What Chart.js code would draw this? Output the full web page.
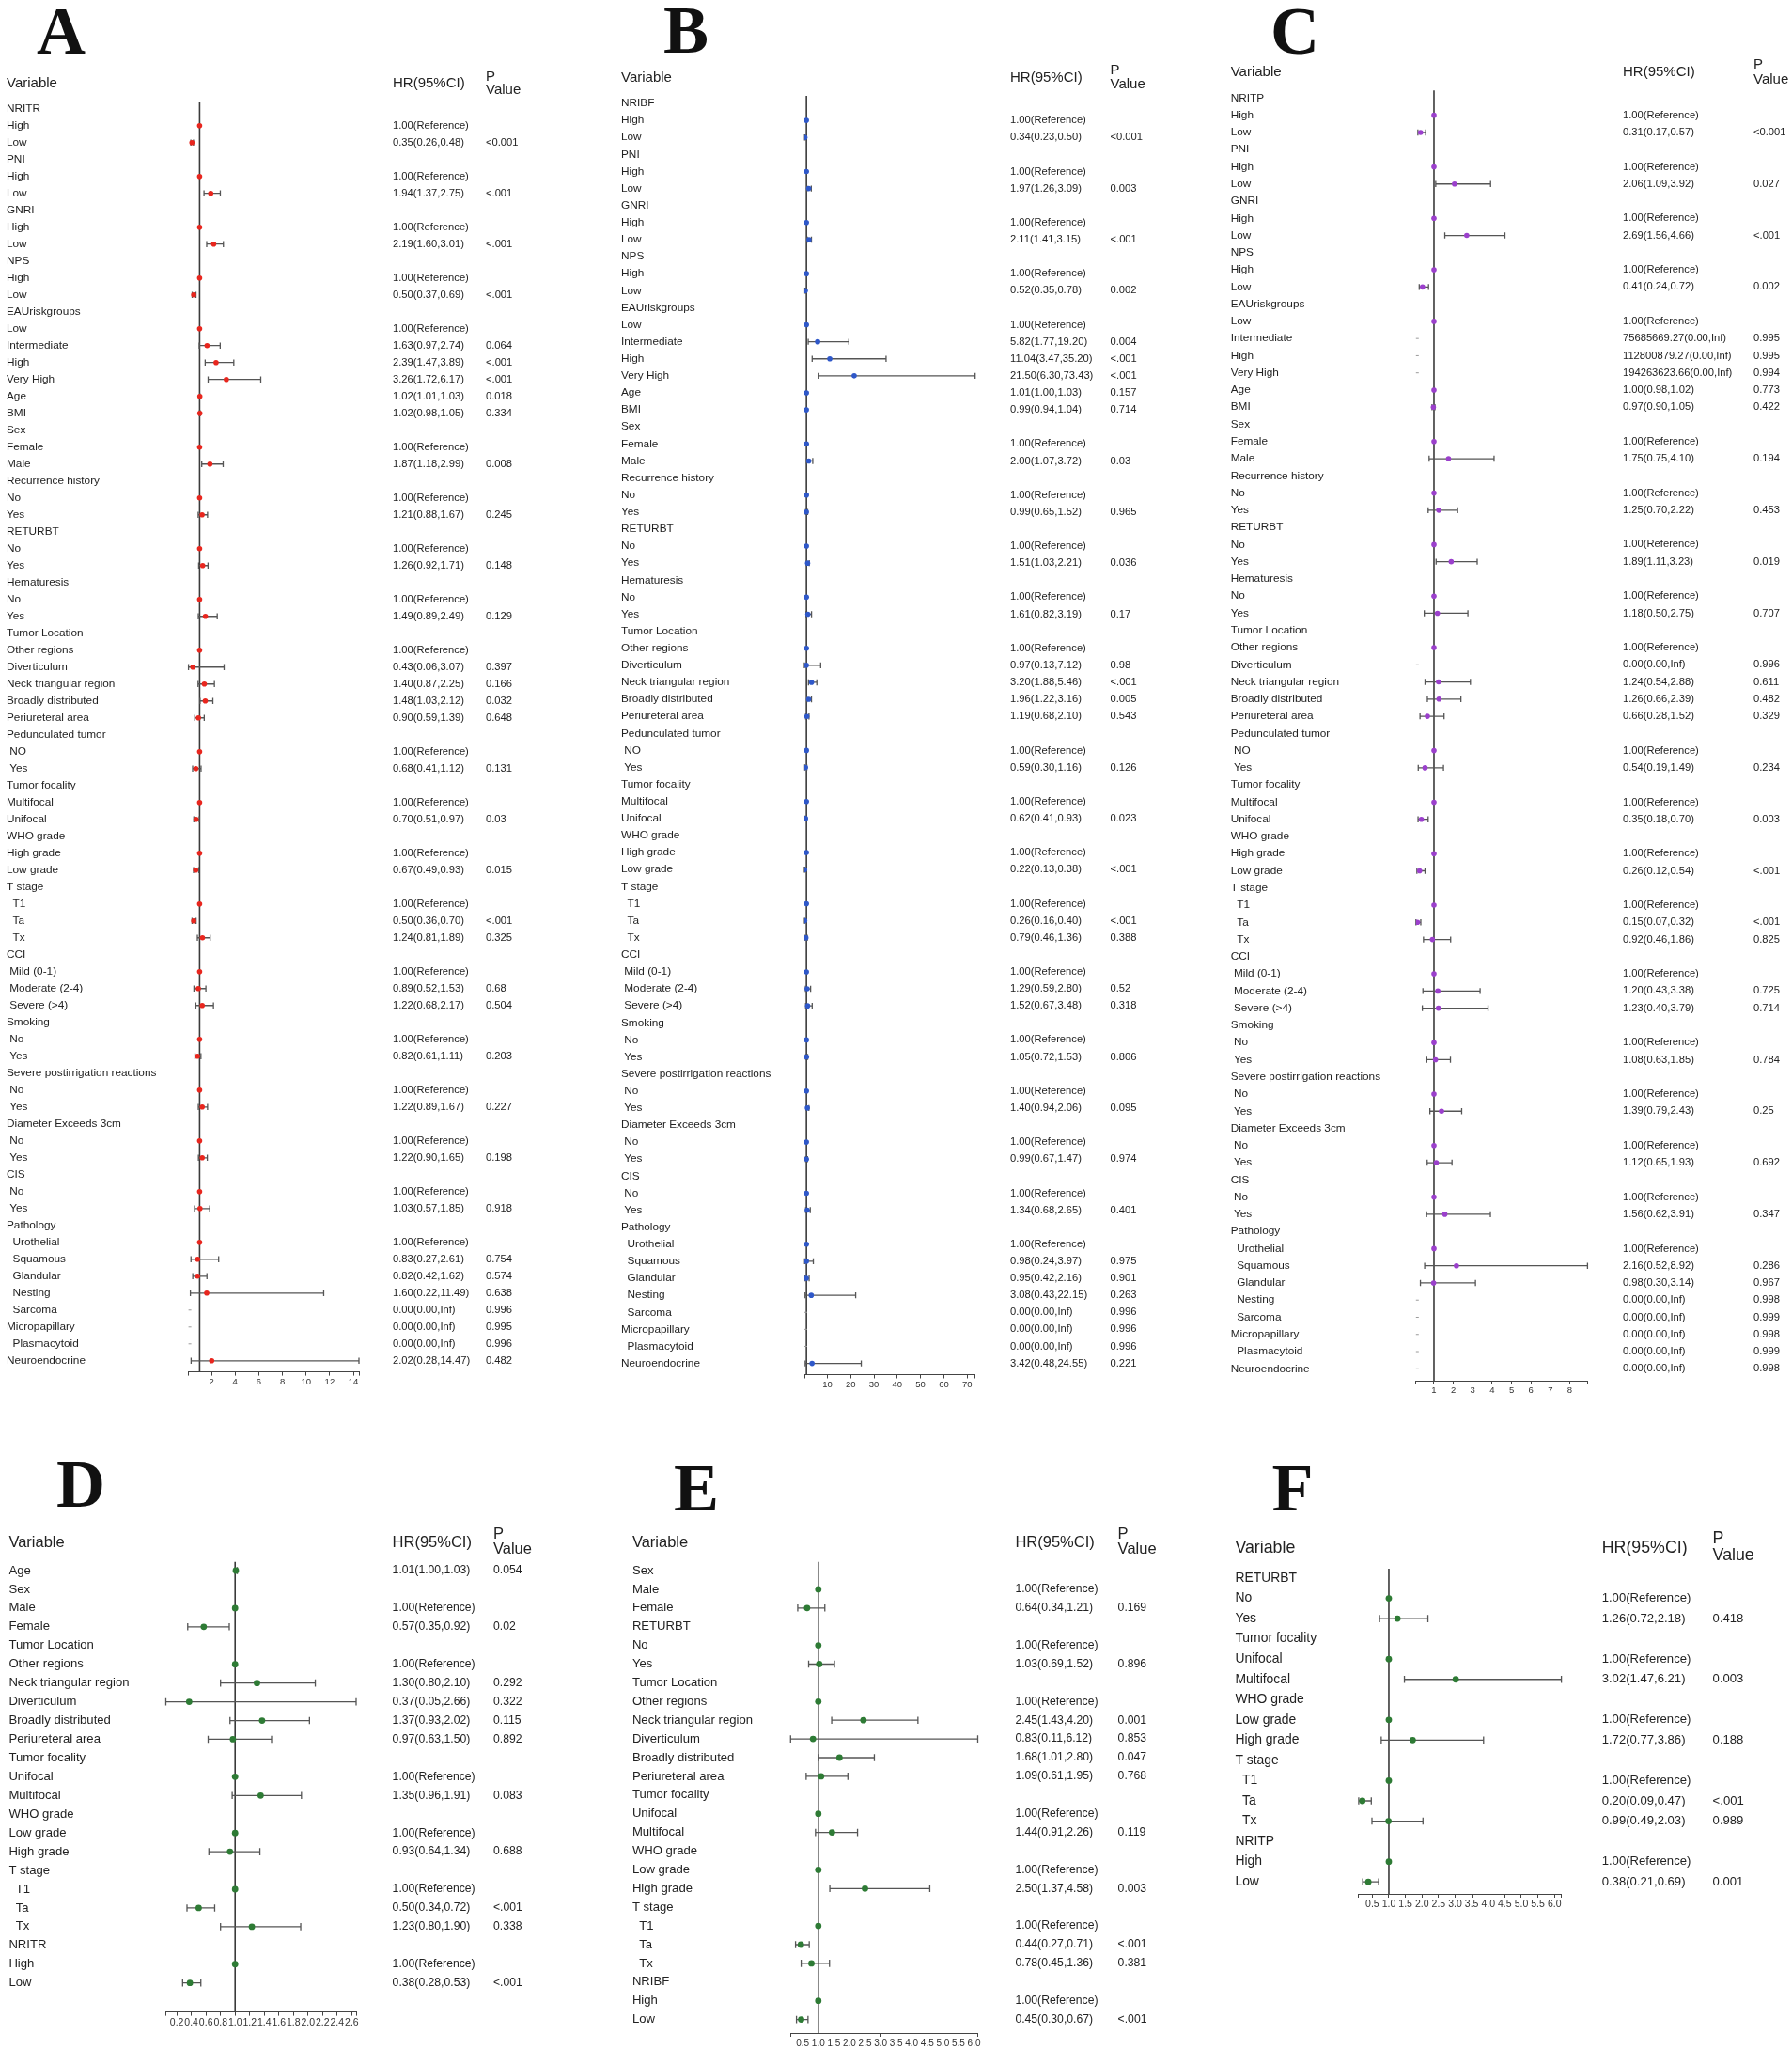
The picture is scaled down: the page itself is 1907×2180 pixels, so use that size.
<!DOCTYPE html>
<html>
<head>
<meta charset="utf-8">
<title>Forest plots A-F</title>
<script src="https://cdn.jsdelivr.net/npm/chart.js@4.4.1/dist/chart.umd.min.js"></script>
<style>
  html, body { margin: 0; padding: 0; background: #fff; width: 1907px; height: 2180px; overflow: hidden; }
  canvas { position: absolute; left: 0; top: 0; }
</style>
</head>
<body>
<canvas id="chartA" width="1907" height="2230"></canvas>
<canvas id="chartB" width="1907" height="2230"></canvas>
<canvas id="chartC" width="1907" height="2230"></canvas>
<canvas id="chartD" width="1907" height="2230"></canvas>
<canvas id="chartE" width="1907" height="2230"></canvas>
<canvas id="chartF" width="1907" height="2230"></canvas>
<script>
// ================== DATA ==================
// null hr = group header row, hr with null lo = reference level, Infinity hi = not estimable

const varsA = ['NRITR', 'High', 'Low', 'PNI', 'High', 'Low', 'GNRI', 'High', 'Low', 'NPS', 'High', 'Low',
  'EAUriskgroups', 'Low', 'Intermediate', 'High', 'Very High', 'Age', 'BMI', 'Sex', 'Female', 'Male',
  'Recurrence history', 'No', 'Yes', 'RETURBT', 'No', 'Yes', 'Hematuresis', 'No', 'Yes',
  'Tumor Location', 'Other regions', 'Diverticulum', 'Neck triangular region', 'Broadly distributed', 'Periureteral area',
  'Pedunculated tumor', ' NO', ' Yes', 'Tumor focality', 'Multifocal', 'Unifocal', 'WHO grade', 'High grade', 'Low grade',
  'T stage', '  T1', '  Ta', '  Tx', 'CCI', ' Mild (0-1)', ' Moderate (2-4)', ' Severe (>4)', 'Smoking', ' No', ' Yes',
  'Severe postirrigation reactions', ' No', ' Yes', 'Diameter Exceeds 3cm', ' No', ' Yes', 'CIS', ' No', ' Yes',
  'Pathology', '  Urothelial', '  Squamous', '  Glandular', '  Nesting', '  Sarcoma', 'Micropapillary', '  Plasmacytoid', 'Neuroendocrine'];
const hrA = [null, 1, 0.35, null, 1, 1.94, null, 1, 2.19, null, 1, 0.50, null, 1, 1.63, 2.39, 3.26, 1.02, 1.02,
  null, 1, 1.87, null, 1, 1.21, null, 1, 1.26, null, 1, 1.49, null, 1, 0.43, 1.40, 1.48, 0.90, null, 1, 0.68,
  null, 1, 0.70, null, 1, 0.67, null, 1, 0.50, 1.24, null, 1, 0.89, 1.22, null, 1, 0.82, null, 1, 1.22,
  null, 1, 1.22, null, 1, 1.03, null, 1, 0.83, 0.82, 1.60, 0.00, 0.00, 0.00, 2.02];
const loA = [null, null, 0.26, null, null, 1.37, null, null, 1.60, null, null, 0.37, null, null, 0.97, 1.47, 1.72, 1.01, 0.98,
  null, null, 1.18, null, null, 0.88, null, null, 0.92, null, null, 0.89, null, null, 0.06, 0.87, 1.03, 0.59, null, null, 0.41,
  null, null, 0.51, null, null, 0.49, null, null, 0.36, 0.81, null, null, 0.52, 0.68, null, null, 0.61, null, null, 0.89,
  null, null, 0.90, null, null, 0.57, null, null, 0.27, 0.42, 0.22, 0.00, 0.00, 0.00, 0.28];
const hiA = [null, null, 0.48, null, null, 2.75, null, null, 3.01, null, null, 0.69, null, null, 2.74, 3.89, 6.17, 1.03, 1.05,
  null, null, 2.99, null, null, 1.67, null, null, 1.71, null, null, 2.49, null, null, 3.07, 2.25, 2.12, 1.39, null, null, 1.12,
  null, null, 0.97, null, null, 0.93, null, null, 0.70, 1.89, null, null, 1.53, 2.17, null, null, 1.11, null, null, 1.67,
  null, null, 1.65, null, null, 1.85, null, null, 2.61, 1.62, 11.49, Infinity, Infinity, Infinity, 14.47];
const pA = [null, null, '<0.001', null, null, '<.001', null, null, '<.001', null, null, '<.001', null, null, '0.064', '<.001', '<.001', '0.018', '0.334',
  null, null, '0.008', null, null, '0.245', null, null, '0.148', null, null, '0.129', null, null, '0.397', '0.166', '0.032', '0.648', null, null, '0.131',
  null, null, '0.03', null, null, '0.015', null, null, '<.001', '0.325', null, null, '0.68', '0.504', null, null, '0.203', null, null, '0.227',
  null, null, '0.198', null, null, '0.918', null, null, '0.754', '0.574', '0.638', '0.996', '0.995', '0.996', '0.482'];
const ticksA = [2, 4, 6, 8, 10, 12, 14];

const varsB = ['NRIBF', ...varsA.slice(1)];
const hrB = [null, 1, 0.34, null, 1, 1.97, null, 1, 2.11, null, 1, 0.52, null, 1, 5.82, 11.04, 21.50, 1.01, 0.99,
  null, 1, 2.00, null, 1, 0.99, null, 1, 1.51, null, 1, 1.61, null, 1, 0.97, 3.20, 1.96, 1.19, null, 1, 0.59,
  null, 1, 0.62, null, 1, 0.22, null, 1, 0.26, 0.79, null, 1, 1.29, 1.52, null, 1, 1.05, null, 1, 1.40,
  null, 1, 0.99, null, 1, 1.34, null, 1, 0.98, 0.95, 3.08, 0.00, 0.00, 0.00, 3.42];
const loB = [null, null, 0.23, null, null, 1.26, null, null, 1.41, null, null, 0.35, null, null, 1.77, 3.47, 6.30, 1.00, 0.94,
  null, null, 1.07, null, null, 0.65, null, null, 1.03, null, null, 0.82, null, null, 0.13, 1.88, 1.22, 0.68, null, null, 0.30,
  null, null, 0.41, null, null, 0.13, null, null, 0.16, 0.46, null, null, 0.59, 0.67, null, null, 0.72, null, null, 0.94,
  null, null, 0.67, null, null, 0.68, null, null, 0.24, 0.42, 0.43, 0.00, 0.00, 0.00, 0.48];
const hiB = [null, null, 0.50, null, null, 3.09, null, null, 3.15, null, null, 0.78, null, null, 19.20, 35.20, 73.43, 1.03, 1.04,
  null, null, 3.72, null, null, 1.52, null, null, 2.21, null, null, 3.19, null, null, 7.12, 5.46, 3.16, 2.10, null, null, 1.16,
  null, null, 0.93, null, null, 0.38, null, null, 0.40, 1.36, null, null, 2.80, 3.48, null, null, 1.53, null, null, 2.06,
  null, null, 1.47, null, null, 2.65, null, null, 3.97, 2.16, 22.15, Infinity, Infinity, Infinity, 24.55];
const pB = [null, null, '<0.001', null, null, '0.003', null, null, '<.001', null, null, '0.002', null, null, '0.004', '<.001', '<.001', '0.157', '0.714',
  null, null, '0.03', null, null, '0.965', null, null, '0.036', null, null, '0.17', null, null, '0.98', '<.001', '0.005', '0.543', null, null, '0.126',
  null, null, '0.023', null, null, '<.001', null, null, '<.001', '0.388', null, null, '0.52', '0.318', null, null, '0.806', null, null, '0.095',
  null, null, '0.974', null, null, '0.401', null, null, '0.975', '0.901', '0.263', '0.996', '0.996', '0.996', '0.221'];
const ticksB = [10, 20, 30, 40, 50, 60, 70];

const varsC = ['NRITP', ...varsA.slice(1)];
const hrC = [null, 1, 0.31, null, 1, 2.06, null, 1, 2.69, null, 1, 0.41, null, 1, 75685669.27, 112800879.27, 194263623.66, 1.00, 0.97,
  null, 1, 1.75, null, 1, 1.25, null, 1, 1.89, null, 1, 1.18, null, 1, 0.00, 1.24, 1.26, 0.66, null, 1, 0.54,
  null, 1, 0.35, null, 1, 0.26, null, 1, 0.15, 0.92, null, 1, 1.20, 1.23, null, 1, 1.08, null, 1, 1.39,
  null, 1, 1.12, null, 1, 1.56, null, 1, 2.16, 0.98, 0.00, 0.00, 0.00, 0.00, 0.00];
const loC = [null, null, 0.17, null, null, 1.09, null, null, 1.56, null, null, 0.24, null, null, 0.00, 0.00, 0.00, 0.98, 0.90,
  null, null, 0.75, null, null, 0.70, null, null, 1.11, null, null, 0.50, null, null, 0.00, 0.54, 0.66, 0.28, null, null, 0.19,
  null, null, 0.18, null, null, 0.12, null, null, 0.07, 0.46, null, null, 0.43, 0.40, null, null, 0.63, null, null, 0.79,
  null, null, 0.65, null, null, 0.62, null, null, 0.52, 0.30, 0.00, 0.00, 0.00, 0.00, 0.00];
const hiC = [null, null, 0.57, null, null, 3.92, null, null, 4.66, null, null, 0.72, null, null, Infinity, Infinity, Infinity, 1.02, 1.05,
  null, null, 4.10, null, null, 2.22, null, null, 3.23, null, null, 2.75, null, null, Infinity, 2.88, 2.39, 1.52, null, null, 1.49,
  null, null, 0.70, null, null, 0.54, null, null, 0.32, 1.86, null, null, 3.38, 3.79, null, null, 1.85, null, null, 2.43,
  null, null, 1.93, null, null, 3.91, null, null, 8.92, 3.14, Infinity, Infinity, Infinity, Infinity, Infinity];
const pC = [null, null, '<0.001', null, null, '0.027', null, null, '<.001', null, null, '0.002', null, null, '0.995', '0.995', '0.994', '0.773', '0.422',
  null, null, '0.194', null, null, '0.453', null, null, '0.019', null, null, '0.707', null, null, '0.996', '0.611', '0.482', '0.329', null, null, '0.234',
  null, null, '0.003', null, null, '<.001', null, null, '<.001', '0.825', null, null, '0.725', '0.714', null, null, '0.784', null, null, '0.25',
  null, null, '0.692', null, null, '0.347', null, null, '0.286', '0.967', '0.998', '0.999', '0.998', '0.999', '0.998'];
const ticksC = [1, 2, 3, 4, 5, 6, 7, 8];

const varsD = ['Age', 'Sex', 'Male', 'Female', 'Tumor Location', 'Other regions', 'Neck triangular region', 'Diverticulum',
  'Broadly distributed', 'Periureteral area', 'Tumor focality', 'Unifocal', 'Multifocal', 'WHO grade', 'Low grade', 'High grade',
  'T stage', '  T1', '  Ta', '  Tx', 'NRITR', 'High', 'Low'];
const hrD = [1.01, null, 1, 0.57, null, 1, 1.30, 0.37, 1.37, 0.97, null, 1, 1.35, null, 1, 0.93, null, 1, 0.50, 1.23, null, 1, 0.38];
const loD = [1.00, null, null, 0.35, null, null, 0.80, 0.05, 0.93, 0.63, null, null, 0.96, null, null, 0.64, null, null, 0.34, 0.80, null, null, 0.28];
const hiD = [1.03, null, null, 0.92, null, null, 2.10, 2.66, 2.02, 1.50, null, null, 1.91, null, null, 1.34, null, null, 0.72, 1.90, null, null, 0.53];
const pD = ['0.054', null, null, '0.02', null, null, '0.292', '0.322', '0.115', '0.892', null, null, '0.083', null, null, '0.688',
  null, null, '<.001', '0.338', null, null, '<.001'];
const ticksD = [0.2, 0.4, 0.6, 0.8, 1.0, 1.2, 1.4, 1.6, 1.8, 2.0, 2.2, 2.4, 2.6];

const varsE = ['Sex', 'Male', 'Female', 'RETURBT', 'No', 'Yes', 'Tumor Location', 'Other regions', 'Neck triangular region',
  'Diverticulum', 'Broadly distributed', 'Periureteral area', 'Tumor focality', 'Unifocal', 'Multifocal', 'WHO grade',
  'Low grade', 'High grade', 'T stage', '  T1', '  Ta', '  Tx', 'NRIBF', 'High', 'Low'];
const hrE = [null, 1, 0.64, null, 1, 1.03, null, 1, 2.45, 0.83, 1.68, 1.09, null, 1, 1.44, null, 1, 2.50, null, 1, 0.44, 0.78, null, 1, 0.45];
const loE = [null, null, 0.34, null, null, 0.69, null, null, 1.43, 0.11, 1.01, 0.61, null, null, 0.91, null, null, 1.37, null, null, 0.27, 0.45, null, null, 0.30];
const hiE = [null, null, 1.21, null, null, 1.52, null, null, 4.20, 6.12, 2.80, 1.95, null, null, 2.26, null, null, 4.58, null, null, 0.71, 1.36, null, null, 0.67];
const pE = [null, null, '0.169', null, null, '0.896', null, null, '0.001', '0.853', '0.047', '0.768', null, null, '0.119', null, null, '0.003',
  null, null, '<.001', '0.381', null, null, '<.001'];
const ticksE = [0.5, 1.0, 1.5, 2.0, 2.5, 3.0, 3.5, 4.0, 4.5, 5.0, 5.5, 6.0];

const varsF = ['RETURBT', 'No', 'Yes', 'Tumor focality', 'Unifocal', 'Multifocal', 'WHO grade', 'Low grade', 'High grade',
  'T stage', '  T1', '  Ta', '  Tx', 'NRITP', 'High', 'Low'];
const hrF = [null, 1, 1.26, null, 1, 3.02, null, 1, 1.72, null, 1, 0.20, 0.99, null, 1, 0.38];
const loF = [null, null, 0.72, null, null, 1.47, null, null, 0.77, null, null, 0.09, 0.49, null, null, 0.21];
const hiF = [null, null, 2.18, null, null, 6.21, null, null, 3.86, null, null, 0.47, 2.03, null, null, 0.69];
const pF = [null, null, '0.418', null, null, '0.003', null, null, '0.188', null, null, '<.001', '0.989', null, null, '0.001'];
const ticksF = [0.5, 1.0, 1.5, 2.0, 2.5, 3.0, 3.5, 4.0, 4.5, 5.0, 5.5, 6.0];

// ================== LAYOUT ==================
const SANS = '"Liberation Sans", Arial, sans-serif';
const SERIF = '"Liberation Serif", "Times New Roman", serif';
const X_AXIS_H = 22;

const panels = [
  { id: 'chartA', letter: 'A', vars: varsA, hr: hrA, lo: loA, hi: hiA, p: pA, xTicks: ticksA, dec: 0, color: '#e8261e',
    labelX: 7, plotL: 200.6, plotR: 382, plotT: 108, plotB: 1459.6, first: 115.7, last: 1447.8,
    hrX: 418, pX: 517, varY: 88.7, pY: 81.6, valY: 96.3, letterX: 65, letterY: 57,
    labelFont: 11.8, textFont: 11.2, headFont: 15, tickFont: 9.5, radius: 2.8, cap: 3.2 },
  { id: 'chartB', letter: 'B', vars: varsB, hr: hrB, lo: loB, hi: hiB, p: pB, xTicks: ticksB, dec: 0, color: '#2f58c9',
    labelX: 661, plotL: 856, plotR: 1037.7, plotT: 102, plotB: 1462.5, first: 110, last: 1450.6,
    hrX: 1075, pX: 1181.5, varY: 82.5, pY: 75, valY: 90, letterX: 730, letterY: 56,
    labelFont: 11.8, textFont: 11.2, headFont: 15, tickFont: 9.5, radius: 2.8, cap: 3.2 },
  { id: 'chartC', letter: 'C', vars: varsC, hr: hrC, lo: loC, hi: hiC, p: pC, xTicks: ticksC, dec: 0, color: '#9b40cc',
    labelX: 1309.7, plotL: 1506.8, plotR: 1689.4, plotT: 96.3, plotB: 1469, first: 104.4, last: 1456.3,
    hrX: 1727, pX: 1866, varY: 76.8, pY: 68.8, valY: 84.4, letterX: 1378, letterY: 57,
    labelFont: 11.8, textFont: 11.2, headFont: 15, tickFont: 9.5, radius: 2.8, cap: 3.2 },
  { id: 'chartD', letter: 'D', vars: varsD, hr: hrD, lo: loD, hi: hiD, p: pD, xTicks: ticksD, dec: 1, color: '#2e7b35',
    labelX: 9.4, plotL: 176.5, plotR: 379, plotT: 1661.7, plotB: 2140.6, first: 1671, last: 2109.7,
    hrX: 417.6, pX: 525, varY: 1641, pY: 1632, valY: 1648.6, letterX: 86, letterY: 1602.5,
    labelFont: 13.1, textFont: 12.2, headFont: 16.5, tickFont: 10.5, radius: 3.4, cap: 3.8 },
  { id: 'chartE', letter: 'E', vars: varsE, hr: hrE, lo: loE, hi: hiE, p: pE, xTicks: ticksE, dec: 1, color: '#2e7b35',
    labelX: 672.9, plotL: 841.3, plotR: 1040.5, plotT: 1661.7, plotB: 2163, first: 1671, last: 2148.6,
    hrX: 1080.4, pX: 1189.6, varY: 1641, pY: 1632, valY: 1648.6, letterX: 741, letterY: 1606.7,
    labelFont: 13.1, textFont: 12.2, headFont: 16.5, tickFont: 10, radius: 3.4, cap: 3.8 },
  { id: 'chartF', letter: 'F', vars: varsF, hr: hrF, lo: loF, hi: hiF, p: pF, xTicks: ticksF, dec: 1, color: '#2e7b35',
    labelX: 1314.4, plotL: 1445.9, plotR: 1661.6, plotT: 1669, plotB: 2015, first: 1679, last: 2002.2,
    hrX: 1704.7, pX: 1822.6, varY: 1646.9, pY: 1637.6, valY: 1655.4, letterX: 1375.5, letterY: 1606.7,
    labelFont: 13.9, textFont: 13.1, headFont: 17.8, tickFont: 10.5, radius: 3.4, cap: 3.8 }
];

function hrLabel(cfg, i) {
  const hr = cfg.hr[i], lo = cfg.lo[i], hi = cfg.hi[i];
  if (hr === null) return null;
  if (lo === null) return '1.00(Reference)';
  return hr.toFixed(2) + '(' + lo.toFixed(2) + ',' + (hi === Infinity ? 'Inf' : hi.toFixed(2)) + ')';
}

// ================== PLUGIN: ref line, CI bars, text columns ==================
function forestPlugin(cfg) {
  return {
    id: 'forest' + cfg.letter,
    beforeDatasetsDraw(chart) {
      const { ctx, chartArea, scales: { x, y } } = chart;
      ctx.save();
      const x1 = x.getPixelForValue(1);
      ctx.strokeStyle = '#3a3a3a';
      ctx.lineWidth = 1.6;
      ctx.beginPath();
      ctx.moveTo(x1, chartArea.top);
      ctx.lineTo(x1, chartArea.bottom);
      ctx.stroke();

      cfg.hr.forEach((v, i) => {
        const lo = cfg.lo[i], hi = cfg.hi[i];
        if (v === null || lo === null) return;
        const py = y.getPixelForValue(i);
        if (hi === Infinity) {
          // not estimable: tiny grey dash at the axis start
          const x0 = x.getPixelForValue(x.min);
          ctx.strokeStyle = '#9a9a9a';
          ctx.lineWidth = 1;
          ctx.beginPath();
          ctx.moveTo(x0, py);
          ctx.lineTo(x0 + 3, py);
          ctx.stroke();
          return;
        }
        const a = x.getPixelForValue(lo), b = x.getPixelForValue(hi);
        ctx.strokeStyle = '#555';
        ctx.lineWidth = 1.3;
        ctx.beginPath();
        ctx.moveTo(a, py); ctx.lineTo(b, py);
        ctx.moveTo(a, py - cfg.cap); ctx.lineTo(a, py + cfg.cap);
        ctx.moveTo(b, py - cfg.cap); ctx.lineTo(b, py + cfg.cap);
        ctx.stroke();
      });
      ctx.restore();
    },
    afterDraw(chart) {
      const { ctx, scales: { y } } = chart;
      ctx.save();
      // panel letter
      ctx.fillStyle = '#111';
      ctx.font = 'bold 72px ' + SERIF;
      ctx.textAlign = 'center';
      ctx.textBaseline = 'alphabetic';
      ctx.fillText(cfg.letter, cfg.letterX, cfg.letterY);

      // column headers
      ctx.textAlign = 'left';
      ctx.textBaseline = 'middle';
      ctx.fillStyle = '#222';
      ctx.font = cfg.headFont + 'px ' + SANS;
      ctx.fillText('Variable', cfg.labelX, cfg.varY);
      ctx.fillText('HR(95%CI)', cfg.hrX, cfg.varY);
      ctx.fillText('P', cfg.pX, cfg.pY);
      ctx.fillText('Value', cfg.pX, cfg.valY);

      // HR and P value columns
      ctx.font = cfg.textFont + 'px ' + SANS;
      cfg.vars.forEach((_, i) => {
        const py = y.getPixelForValue(i);
        const t = hrLabel(cfg, i);
        if (t) ctx.fillText(t, cfg.hrX, py);
        if (cfg.p[i]) ctx.fillText(cfg.p[i], cfg.pX, py);
      });
      ctx.restore();
    }
  };
}

// ================== BUILD ==================
function makeChart(cfg) {
  const n = cfg.vars.length;
  const sp = (cfg.last - cfg.first) / (n - 1);
  const yMin = -(cfg.first - cfg.plotT) / sp;
  const yMax = (n - 1) + (cfg.plotB - cfg.last) / sp;
  const xMin = Math.min(...cfg.lo.filter(v => v !== null && v > 0));
  const xMax = Math.max(...cfg.hi.filter(v => v !== null && isFinite(v)));

  const points = [];
  cfg.hr.forEach((v, i) => {
    if (v !== null && cfg.hi[i] !== Infinity) points.push({ x: v, y: i });
  });

  const canvas = document.getElementById(cfg.id);
  const W = canvas.width, H = canvas.height;

  new Chart(canvas, {
    type: 'scatter',
    data: {
      datasets: [{
        data: points,
        pointRadius: cfg.radius,
        pointHoverRadius: cfg.radius,
        pointBackgroundColor: cfg.color,
        pointBorderWidth: 0,
        showLine: false
      }]
    },
    options: {
      responsive: false,
      animation: false,
      events: [],
      layout: { padding: { left: cfg.labelX, right: W - cfg.plotR, top: cfg.plotT, bottom: H - cfg.plotB - X_AXIS_H } },
      plugins: { legend: { display: false }, tooltip: { enabled: false } },
      scales: {
        x: {
          type: 'linear',
          min: xMin,
          max: xMax,
          bounds: 'data',
          afterBuildTicks: ax => { ax.ticks = [xMin, ...cfg.xTicks, xMax].map(v => ({ value: v })); },
          afterFit: ax => { ax.height = X_AXIS_H; },
          grid: { display: true, drawOnChartArea: false, drawTicks: true, tickLength: 4, color: '#444', lineWidth: 1 },
          border: { display: true, color: '#444', width: 1 },
          ticks: {
            autoSkip: false, maxRotation: 0, minRotation: 0, padding: 1, color: '#333',
            font: { family: SANS, size: cfg.tickFont },
            callback: v => cfg.xTicks.includes(v) ? v.toFixed(cfg.dec) : ''
          }
        },
        y: {
          type: 'linear',
          reverse: true,
          min: yMin,
          max: yMax,
          afterBuildTicks: ax => { ax.ticks = cfg.vars.map((_, i) => ({ value: i })); },
          afterFit: ax => { ax.width = cfg.plotL - cfg.labelX; },
          grid: { display: false },
          border: { display: false },
          ticks: {
            autoSkip: false, crossAlign: 'far', padding: 0, color: '#222',
            font: { family: SANS, size: cfg.labelFont },
            callback: v => cfg.vars[v]
          }
        }
      }
    },
    plugins: [forestPlugin(cfg)]
  });
}

document.addEventListener('DOMContentLoaded', () => {
  panels.forEach(makeChart);
});
</script>
</body>
</html>
